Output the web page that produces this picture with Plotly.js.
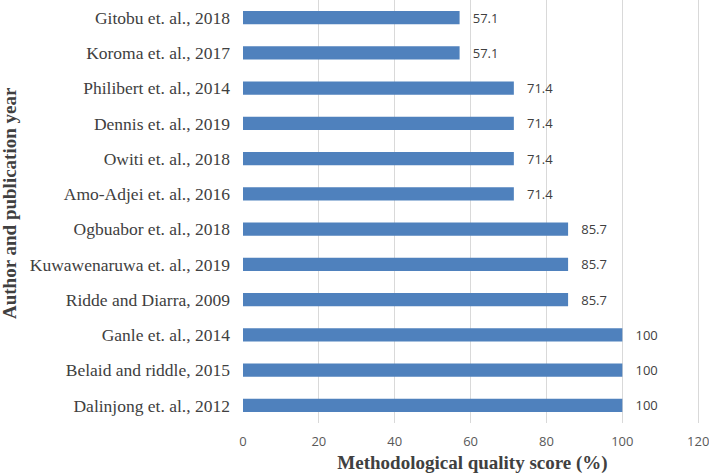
<!DOCTYPE html>
<html>
<head>
<meta charset="utf-8">
<script src="https://cdn.plot.ly/plotly-3.0.1.min.js"></script>
<style>html,body{margin:0;padding:0;background:#fff;}#chart{width:709px;height:474px;}</style>
</head>
<body>
<div id="chart"></div>
<script>
const authors = [
  "Gitobu et. al., 2018",
  "Koroma et. al., 2017",
  "Philibert et. al., 2014",
  "Dennis et. al., 2019",
  "Owiti et. al., 2018",
  "Amo-Adjei et. al., 2016",
  "Ogbuabor et. al., 2018",
  "Kuwawenaruwa et. al., 2019",
  "Ridde and Diarra, 2009",
  "Ganle et. al., 2014",
  "Belaid and riddle, 2015",
  "Dalinjong et. al., 2012"
];
const scores = [57.1, 57.1, 71.4, 71.4, 71.4, 71.4, 85.7, 85.7, 85.7, 100, 100, 100];
const xTicks = [0, 20, 40, 60, 80, 100, 120];
const yTitle = 'Author and publication year';
const xTitle = 'Methodological quality score (%)';

const trace = {
  type: 'bar',
  orientation: 'h',
  x: scores,
  y: authors,
  width: 0.37,
  marker: {color: '#4f81bd'},
  text: scores.map(v => '\u00A0\u00A0\u00A0' + String(v)),
  textposition: 'outside',
  constraintext: 'none',
  cliponaxis: false,
  textfont: {family: 'Open Sans, Liberation Sans, sans-serif', size: 13, color: '#404040'},
  hoverinfo: 'none'
};

const layout = {
  width: 709, height: 474,
  margin: {l: 243, r: 7, t: 0, b: 51, autoexpand: false},
  paper_bgcolor: '#fff', plot_bgcolor: '#fff',
  showlegend: false,
  xaxis: {
    range: [0, 121],
    tickvals: xTicks,
    ticktext: xTicks.map(String),
    ticklabeloverflow: 'allow',
    ticklabelstandoff: 9,
    automargin: false,
    showgrid: true, gridcolor: '#d9d9d9', gridwidth: 1,
    zeroline: false, showline: false,
    ticks: '',
    tickfont: {family: 'Open Sans, Liberation Sans, sans-serif', size: 13, color: '#595959'},
    title: {text: xTitle, standoff: 6,
            font: {family: 'Liberation Serif, Times New Roman, serif', size: 19, color: '#404040', weight: 'bold'}}
  },
  yaxis: {
    autorange: 'reversed',
    automargin: false,
    showgrid: false, zeroline: false, showline: false,
    ticks: '', ticklabelstandoff: 12,
    tickfont: {family: 'Liberation Serif, Times New Roman, serif', size: 17.5, color: '#404040'}
  },
  annotations: [{
    text: yTitle,
    xref: 'paper', yref: 'paper',
    x: (9 - 243) / 459, y: (423 - 203) / 423,
    xanchor: 'center', yanchor: 'middle',
    textangle: -90, showarrow: false,
    font: {family: 'Liberation Serif, Times New Roman, serif', size: 19, color: '#404040', weight: 'bold'}
  }],
  font: {family: 'Liberation Serif, serif'}
};

Plotly.newPlot('chart', [trace], layout, {displayModeBar: false, staticPlot: true});
</script>
</body>
</html>
